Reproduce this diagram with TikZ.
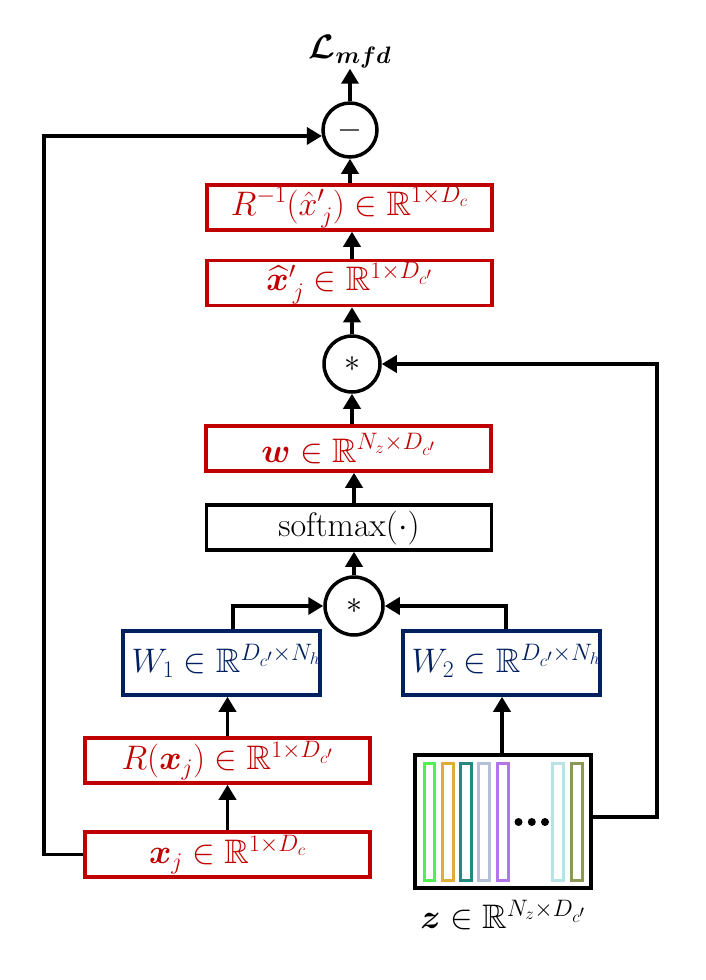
\RequirePackage{fix-cm}
\documentclass[tikz,border=0pt]{standalone}
\usepackage{amsmath,amssymb,bm}
\usetikzlibrary{arrows.meta}
\definecolor{myred}{RGB}{192,0,0}
\definecolor{myblue}{RGB}{0,32,96}
\definecolor{barA}{RGB}{80,240,80}
\definecolor{barB}{RGB}{222,172,56}
\definecolor{barC}{RGB}{36,138,128}
\definecolor{barD}{RGB}{180,192,216}
\definecolor{barE}{RGB}{178,118,234}
\definecolor{barF}{RGB}{184,226,230}
\definecolor{barG}{RGB}{138,154,86}
\begin{document}
\begin{tikzpicture}[x=1pt,y=-1pt,
  txt/.style={font=\fontsize{34}{38}\selectfont, inner sep=0pt},
  box/.style={draw, line width=3.5pt, inner sep=0pt, minimum width=285pt, minimum height=45pt, txt},
  redbox/.style={box, draw=myred, text=myred},
  bluebox/.style={box, draw=myblue, text=myblue, minimum width=197pt, minimum height=64pt},
  blackbox/.style={box, draw=black},
  op/.style={draw, circle, line width=3.5pt, inner sep=0pt, font=\fontsize{32}{36}\selectfont},
  arr/.style={line width=3.5pt, -{Triangle[width=17pt,length=15pt]}},
  ln/.style={line width=3.5pt},
  bar/.style={line width=3pt},
]
\useasboundingbox (0,0) rectangle (705,980);

% nodes
\node[txt] (L) at (350,52) {$\boldsymbol{\mathcal{L}}_{\boldsymbol{mfd}}$};
\node[op, minimum size=54pt] (m) at (350,130) {$-$};
\node[redbox] (Ri) at (349.5,207.5) {$R^{-1}({\hat{x}'}_{\mkern3mu j}) \in \mathbb{R}^{1\times D_c}$};
\node[redbox] (xh) at (349.5,283) {${\widehat{\boldsymbol{x}}'}_{\mkern3mu j} \in \mathbb{R}^{1\times D_{c'}}$};
\node[op, minimum size=56pt] (s1) at (352,364) {$*$};
\node[redbox] (w) at (348.5,448.5) {$\boldsymbol{w} \in \mathbb{R}^{N_z\times D_{c'}}$};
\node[blackbox] (sm) at (349,527.5) {$\mathrm{softmax}(\cdot)$};
\node[op, minimum size=58pt] (s2) at (354,606) {$*$};
\node[bluebox] (W1) at (221.5,663) {};
\node[txt, text=myblue] (W1t) at (226,661) {$W_1 \in \mathbb{R}^{D_{c'}\times N_h}$};
\node[bluebox] (W2) at (501.5,663) {};
\node[txt, text=myblue] (W2t) at (506,661) {$W_2 \in \mathbb{R}^{D_{c'}\times N_h}$};
\node[redbox] (R) at (227.5,760.5) {$R(\boldsymbol{x}_j) \in \mathbb{R}^{1\times D_{c'}}$};
\node[redbox] (xj) at (227.5,854.5) {$\boldsymbol{x}_j \in \mathbb{R}^{1\times D_c}$};
\node[draw, line width=3.5pt, minimum width=176pt, minimum height=133pt, inner sep=0pt] (z) at (503,821.5) {};
\node[txt] (zl) at (503,915) {$\boldsymbol{z} \in \mathbb{R}^{N_z\times D_{c'}}$};

% bars inside z
\draw[bar, draw=barA] (424.2,763.5) rectangle (434.7,880.5);
\draw[bar, draw=barB] (442.5,763.5) rectangle (453,880.5);
\draw[bar, draw=barC] (460.8,763.5) rectangle (471.3,880.5);
\draw[bar, draw=barD] (478.8,763.5) rectangle (489.3,880.5);
\draw[bar, draw=barE] (497.5,763.5) rectangle (508,880.5);
\draw[bar, draw=barF] (552.5,763.5) rectangle (563,880.5);
\draw[bar, draw=barG] (571.5,763.5) rectangle (582,880.5);
\fill (518.5,822) circle (4pt) (531.8,822) circle (4pt) (545,822) circle (4pt);

% connectors
\coordinate (lt) at (44,137);
\coordinate (zr) at (657,817);
\draw[arr] (m.north) -- (L.south);
\draw[arr] (Ri.north -| m) -- (m.south);
\draw[arr] (xh.north -| s1) -- (Ri.south -| s1);
\draw[arr] (s1.north) -- (s1 |- xh.south);
\draw[arr] (s1 |- w.north) -- (s1.south);
\draw[arr] (s2 |- sm.north) -- (s2 |- w.south);
\draw[arr] (s2.north) -- (s2 |- sm.south);
\draw[arr] ([xshift=11.5pt]W1.north) |- (s2.west);
\draw[arr] ([xshift=4.5pt]W2.north) |- (s2.east);
\draw[arr] (z.north -| 502,0) -- (W2.south -| 502,0);
\draw[arr] (R.north) -- (R.north |- W1.south);
\draw[arr] (xj.north) -- (R.south);
\draw[arr] (xj.west) -- (xj.west -| lt) |- (m.192);
\draw[arr] (z.east |- zr) -- (zr) |- (s1.east);
\end{tikzpicture}
\end{document}
